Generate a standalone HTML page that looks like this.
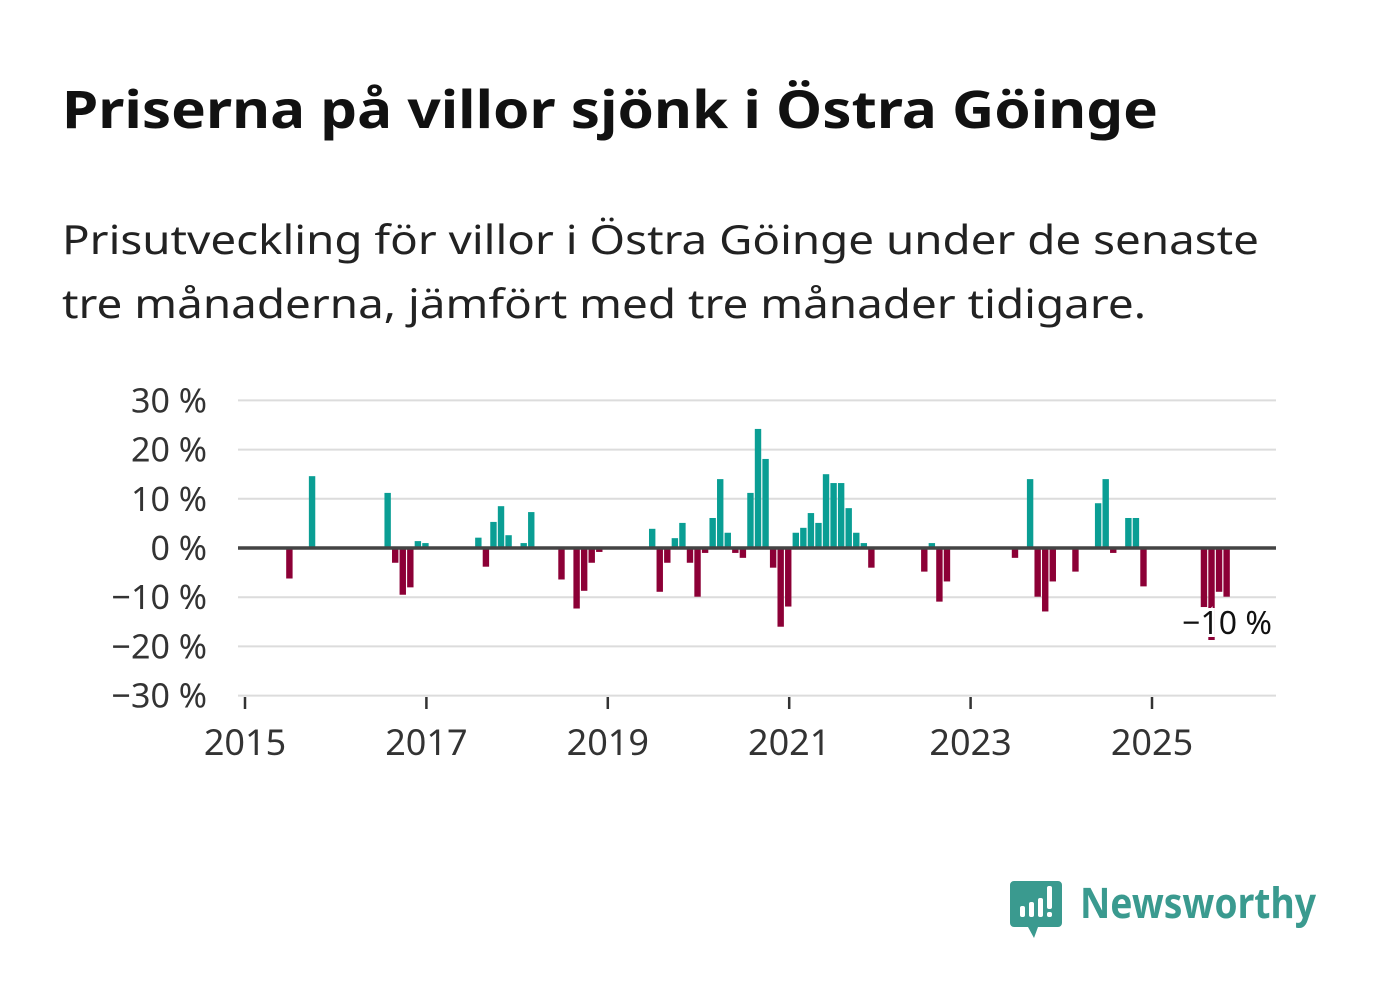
<!DOCTYPE html>
<html><head><meta charset="utf-8"><style>
html,body{margin:0;padding:0;background:#fff;}
svg{display:block;font-family:"Noto Sans","Liberation Sans",sans-serif;}
</style></head><body>
<svg id="chart" width="1382" height="999" viewBox="0 0 1382 999">
<text x="62" y="128" font-size="52" font-weight="bold" fill="#111" textLength="1096" lengthAdjust="spacingAndGlyphs">Priserna på villor sjönk i Östra Göinge</text>
<text x="62" y="254" font-size="40" fill="#222" textLength="1197" lengthAdjust="spacingAndGlyphs">Prisutveckling för villor i Östra Göinge under de senaste</text>
<text x="62" y="318" font-size="40" fill="#222" textLength="1084" lengthAdjust="spacingAndGlyphs">tre månaderna, jämfört med tre månader tidigare.</text>
<g id="grid"></g>
<g id="bars"></g>
<g id="axes"></g>
<g>
<path d="M1014 881 h44 a4 4 0 0 1 4 4 v38 a4 4 0 0 1 -4 4 h-20 l-4 11 l-6 -11 h-14 a4 4 0 0 1 -4 -4 v-38 a4 4 0 0 1 4 -4z" fill="#3a9a8f"/>
<rect x="1020" y="906" width="5" height="11" rx="2" fill="#fff"/>
<rect x="1029" y="902" width="5" height="15" rx="2" fill="#fff"/>
<rect x="1038" y="898" width="5" height="19" rx="2" fill="#fff"/>
<rect x="1047" y="886" width="5" height="23" rx="2" fill="#fff"/>
<rect x="1047" y="912" width="5" height="5" rx="2" fill="#fff"/>
<text x="1080" y="918" font-size="42" font-weight="bold" fill="#3a9a8f" textLength="236" lengthAdjust="spacingAndGlyphs">Newsworthy</text>
</g>
</svg>
<script>
const dates = ["2015-06","2015-09","2016-07","2016-08","2016-09","2016-10","2016-11","2016-12","2017-07","2017-08","2017-09","2017-10","2017-11","2018-01","2018-02","2018-06","2018-08","2018-09","2018-10","2018-11","2019-06","2019-07","2019-08","2019-09","2019-10","2019-11","2019-12","2020-01","2020-02","2020-03","2020-04","2020-05","2020-06","2020-07","2020-08","2020-09","2020-10","2020-11","2020-12","2021-01","2021-02","2021-03","2021-04","2021-05","2021-06","2021-07","2021-08","2021-09","2021-10","2021-11","2022-06","2022-07","2022-08","2022-09","2023-06","2023-08","2023-09","2023-10","2023-11","2024-02","2024-05","2024-06","2024-07","2024-09","2024-10","2024-11","2025-07","2025-08","2025-09","2025-10"];
const values = [-6.2,14.6,11.2,-3,-9.5,-8,1.4,1,2.1,-3.8,5.3,8.5,2.6,1,7.3,-6.4,-12.3,-8.7,-3,-0.8,3.9,-8.9,-3,2,5.1,-3,-9.9,-1,6.1,14,3.1,-1,-2,11.2,24.2,18.1,-4,-16,-11.9,3.1,4.1,7.1,5.1,15,13.2,13.2,8.1,3.1,1,-4,-4.8,1,-10.9,-6.8,-2,14,-9.9,-12.9,-6.8,-4.8,9.1,14,-1,6.1,6.1,-7.8,-12,-18.7,-8.9,-9.9];
const yTicks = [30,20,10,0,-10,-20,-30];
const xTicks = [2015,2017,2019,2021,2023,2025];
const lastLabel = "−10 %";

const NS="http://www.w3.org/2000/svg";
const X0=245, PX_YEAR=90.7, Y0=548, PX_PCT=4.92, LEFT=238, RIGHT=1276;
function xScale(year, month){return X0+(year-2015+month/12)*PX_YEAR;}
function yScale(v){return Y0-v*PX_PCT;}
function mk(tag, attrs, parent){const e=document.createElementNS(NS,tag);for(const k in attrs)e.setAttribute(k,attrs[k]);parent.appendChild(e);return e;}
const grid=document.getElementById('grid'), bars=document.getElementById('bars'), axes=document.getElementById('axes');
yTicks.forEach(t=>{
  if(t!==0){const l=mk('line',{x1:LEFT,x2:RIGHT,y1:yScale(t),y2:yScale(t),stroke:'#dcdcdc','stroke-width':2},grid);
  
  }
  const tx=mk('text',{x:207,y:yScale(t)+12,'font-size':34,fill:'#333','text-anchor':'end'},axes);
  tx.textContent=(t<0?'−'+(-t):t)+' %';
  
  
});
dates.forEach((d,i)=>{
  const [y,m]=d.split('-').map(Number);
  const v=values[i];
  const x=xScale(y,m-1);
  const r=mk('rect',{x:x+3.4,y:Math.min(yScale(v),Y0),width:6.4,height:Math.abs(yScale(v)-Y0),fill:v>=0?'#0a9e94':'#8c0036'},bars);
  
  
});
const zl=mk('line',{x1:LEFT,x2:RIGHT,y1:Y0,y2:Y0,stroke:'#444','stroke-width':3.5},axes);


xTicks.forEach(t=>{
  const x=xScale(t,0);
  const tk=mk('line',{x1:x,x2:x,y1:697,y2:709,stroke:'#333','stroke-width':2.5},axes);
  
  
  const tx=mk('text',{x:x,y:755,'font-size':36,fill:'#333','text-anchor':'middle'},axes);
  tx.textContent=t;
  
  
});
const lb=mk('text',{x:1272,y:634,'font-size':32,fill:'#111','text-anchor':'end',stroke:'#fff','stroke-width':6,'paint-order':'stroke'},axes);
lb.textContent=lastLabel;


</script>
</body></html>
